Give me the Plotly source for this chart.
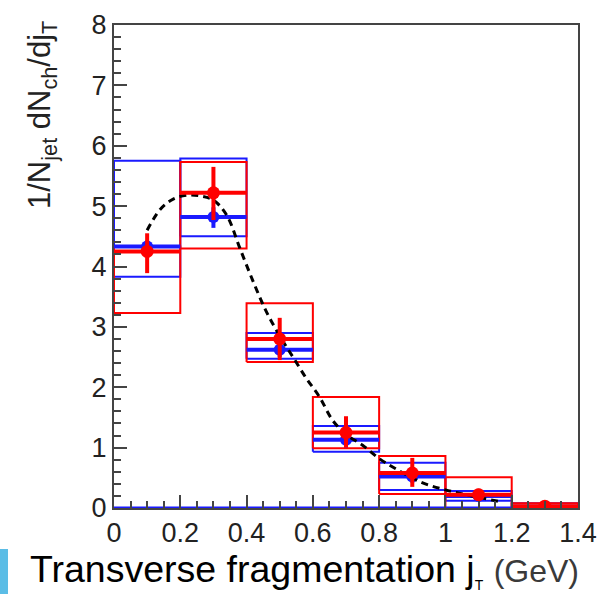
import plotly.graph_objects as go

# ---- data ----
bin_lo = [0.0, 0.2, 0.4, 0.6, 0.8, 1.0, 1.2]
bin_hi = [0.2, 0.4, 0.6, 0.8, 1.0, 1.2, 1.4]
bin_center = [0.1, 0.3, 0.5, 0.7, 0.9, 1.1, 1.3]
bin_halfwidth = [0.1] * 7

red_val = [4.25, 5.22, 2.80, 1.25, 0.58, 0.22, 0.03]
red_err_up = [0.30, 0.43, 0.35, 0.27, 0.25, 0.10, 0.02]
red_err_dn = [0.36, 0.45, 0.35, 0.25, 0.23, 0.10, 0.02]
red_sys_lo = [3.23, 4.30, 2.42, 0.99, 0.23, 0.00, 0.00]
red_sys_hi = [4.33, 5.73, 3.39, 1.84, 0.86, 0.51, 0.08]

blue_val = [4.33, 4.82, 2.62, 1.13, 0.52, 0.20, 0.02]
blue_err_up = [0.10, 0.16, 0.12, 0.13, 0.10, 0.05, 0.02]
blue_err_dn = [0.10, 0.18, 0.12, 0.13, 0.10, 0.05, 0.02]
blue_sys_lo = [3.83, 4.50, 2.47, 0.93, 0.30, 0.12, 0.00]
blue_sys_hi = [5.75, 5.79, 2.90, 1.36, 0.75, 0.28, 0.08]

curve_x = [0.10, 0.14, 0.18, 0.22, 0.26, 0.30, 0.34, 0.38, 0.42, 0.46, 0.50, 0.54,
           0.58, 0.62, 0.66, 0.70, 0.75, 0.80, 0.85, 0.925, 1.00, 1.08, 1.17]
curve_y = [4.60, 4.95, 5.12, 5.18, 5.17, 5.10, 4.85, 4.30, 3.75, 3.25, 2.85, 2.50,
           2.15, 1.84, 1.45, 1.22, 1.04, 0.82, 0.65, 0.43, 0.30, 0.20, 0.10]

x_tickvals = [0, 0.2, 0.4, 0.6, 0.8, 1, 1.2, 1.4]
x_ticktext = ["0", "0.2", "0.4", "0.6", "0.8", "1", "1.2", "1.4"]

x_range = [0, 1.4]
y_range = [0, 8]

RED = "#ff0000"
BLUE = "#1a1aff"

fig = go.Figure()

def box_trace(lo, hi, ylo, yhi, color):
    xs, ys = [], []
    for a, b, c, d in zip(lo, hi, ylo, yhi):
        xs += [a, b, b, a, a, None]
        ys += [c, c, d, d, c, None]
    return go.Scatter(x=xs, y=ys, mode="lines", line=dict(color=color, width=2),
                      hoverinfo="skip", showlegend=False)

fig.add_trace(box_trace(bin_lo, bin_hi, blue_sys_lo, blue_sys_hi, BLUE))
fig.add_trace(box_trace(bin_lo, bin_hi, red_sys_lo, red_sys_hi, RED))

# blue line along zero
fig.add_trace(go.Scatter(x=x_range, y=[0, 0], mode="lines",
                         line=dict(color=BLUE, width=3), hoverinfo="skip", showlegend=False))

fig.add_trace(go.Scatter(
    x=bin_center, y=blue_val, mode="markers",
    marker=dict(color=BLUE, size=12, symbol="circle"),
    error_y=dict(type="data", symmetric=False, array=blue_err_up, arrayminus=blue_err_dn,
                 color=BLUE, thickness=4, width=0),
    error_x=dict(type="data", array=bin_halfwidth, color=BLUE, thickness=4, width=0),
    showlegend=False))

fig.add_trace(go.Scatter(x=curve_x, y=curve_y, mode="lines",
                         line=dict(color="black", width=3, dash="7px,5px", shape="spline"),
                         showlegend=False))

fig.add_trace(go.Scatter(
    x=bin_center, y=red_val, mode="markers",
    marker=dict(color=RED, size=13, symbol="circle"),
    error_y=dict(type="data", symmetric=False, array=red_err_up, arrayminus=red_err_dn,
                 color=RED, thickness=4, width=0),
    error_x=dict(type="data", array=bin_halfwidth, color=RED, thickness=4, width=0),
    showlegend=False))

L, R, T, B = 114, 25, 25, 86
W, H = 603, 594
pw, ph = W - L - R, H - T - B

def px2paper_x(px):
    return (px - L) / pw

def px2paper_y(py):
    return (H - B - py) / ph

axis_common = dict(showgrid=False, zeroline=False, showline=True, linecolor="#444",
                   linewidth=2, mirror=True, ticks="inside", tickcolor="#444",
                   tickwidth=2, ticklen=13, automargin=False,
                   tickfont=dict(family="Liberation Sans", size=27, color="#222"))

fig.update_xaxes(range=x_range, tickvals=x_tickvals, ticktext=x_ticktext,
                 minor=dict(ticks="inside", dtick=0.05, ticklen=7, tickcolor="#444", tickwidth=2),
                 **axis_common)
fig.update_yaxes(range=y_range, dtick=1, tick0=0,
                 minor=dict(ticks="inside", dtick=0.2, ticklen=7, tickcolor="#444", tickwidth=2),
                 **axis_common)

fig.add_annotation(xref="paper", yref="paper", x=px2paper_x(42), y=px2paper_y(115),
                   text="1/N<sub>jet</sub> dN<sub>ch</sub>/dj<sub>T</sub>",
                   textangle=-90, showarrow=False, xanchor="center", yanchor="middle",
                   font=dict(family="Liberation Sans", size=31, color="#222"))

fig.add_annotation(xref="paper", yref="paper", x=px2paper_x(28), y=px2paper_y(570),
                   text=("Transverse fragmentation j<sub><span style='font-size:14px'>T</span></sub>"
                         " <span style='font-size:32px;color:#3a3a3a'>(GeV)</span>"),
                   showarrow=False, xanchor="left", yanchor="middle",
                   font=dict(family="Liberation Sans", size=37.5, color="black"))

fig.add_shape(type="rect", xref="paper", yref="paper",
              x0=px2paper_x(0), x1=px2paper_x(8), y0=px2paper_y(549), y1=px2paper_y(594),
              fillcolor="#5bbde6", line=dict(width=0), layer="above")

fig.update_layout(width=W, height=H, margin=dict(l=L, r=R, t=T, b=B),
                  plot_bgcolor="white", paper_bgcolor="white", showlegend=False)

fig.write_html("out.html", config={"displayModeBar": False},
               post_script="document.body.style.margin='0';document.body.style.overflow='hidden';")
